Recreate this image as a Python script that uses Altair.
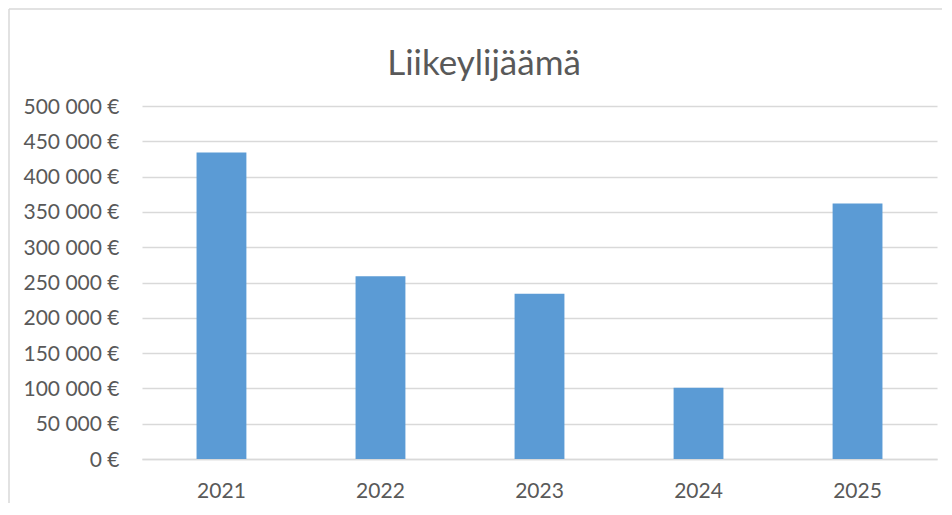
import altair as alt
import pandas as pd

# Data
years = ["2021", "2022", "2023", "2024", "2025"]
values = [434000, 259000, 234000, 101000, 362000]
y_ticks = [0, 50000, 100000, 150000, 200000, 250000, 300000, 350000, 400000, 450000, 500000]
title_text = ["Liikeylijäämä"]

df = pd.DataFrame({"year": years, "value": values})
title_df = pd.DataFrame({"t": title_text})

FONT = "Lato"
TEXT = "#595959"
GRID = "#d9d9d9"
BAR = "#5b9bd5"

PLOT_W = 795
PLOT_H = 353

bars = alt.Chart(df).mark_bar(color=BAR).encode(
    x=alt.X(
        "year:N",
        sort=years,
        scale=alt.Scale(paddingInner=0.6865, paddingOuter=0.343),
        axis=alt.Axis(
            title=None,
            labelAngle=0,
            labelFont=FONT,
            labelFontSize=21,
            labelColor=TEXT,
            labelPadding=21,
            ticks=False,
            domain=True,
            domainColor=GRID,
            domainWidth=1.5,
            grid=False,
        ),
    ),
    y=alt.Y(
        "value:Q",
        scale=alt.Scale(domain=[0, 500000], nice=False),
        axis=alt.Axis(
            title=None,
            values=y_ticks,
            format=",d",
            labelExpr="replace(datum.label, ',', ' ') + ' €'",
            labelFont=FONT,
            labelFontSize=21,
            labelColor=TEXT,
            labelPadding=23,
            labelOffset=1,
            ticks=False,
            domain=False,
            grid=True,
            gridColor=GRID,
            gridWidth=1.5,
        ),
    ),
)

title = alt.Chart(title_df).mark_text(
    font=FONT,
    fontSize=35,
    color=TEXT,
    align="center",
    baseline="alphabetic",
).encode(
    x=alt.value(342),
    y=alt.value(-31),
    text="t:N",
)

border_left = alt.Chart(title_df).mark_rule(color=GRID, strokeWidth=1.5).encode(
    x=alt.value(-133),
    y=alt.value(-97),
    y2=alt.value(400),
)
border_top = alt.Chart(title_df).mark_rule(color=GRID, strokeWidth=1.5).encode(
    x=alt.value(-133),
    x2=alt.value(800),
    y=alt.value(-97),
)

chart = (
    alt.layer(border_left, border_top, bars, title)
    .properties(
        width=PLOT_W,
        height=PLOT_H,
        autosize=alt.AutoSizeParams(type="none"),
        padding={"left": 134, "top": 98, "right": 5, "bottom": 44},
        background="white",
    )
    .configure_view(strokeWidth=0)
)

chart.save("out.html", embed_options={"renderer": "svg", "actions": False})
